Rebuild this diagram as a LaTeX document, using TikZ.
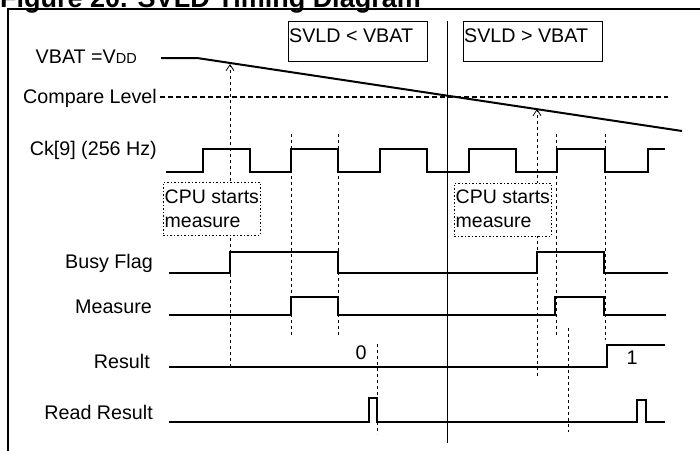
\documentclass[tikz,border=0pt]{standalone}
\usepackage{fontspec}
\setmainfont{Liberation Sans}
\usetikzlibrary{arrows.meta}
\begin{document}
\begin{tikzpicture}[x=1pt,y=-1pt,
  txt/.style={inner sep=0pt, font=\fontsize{19.7}{24}\selectfont},
  lbl/.style={txt, anchor=base east},
  wave/.style={line width=2pt, line join=miter},
  guide/.style={line width=0.9pt, dash pattern=on 3pt off 3pt},
  uparrow/.style={guide, -{Straight Barb[length=6pt,width=8pt,line width=0.8pt]}},
  cond/.style={draw, line width=0.9pt, anchor=north west, inner sep=0pt, minimum width=139pt, minimum height=40pt},
  note/.style={draw, line width=0.9pt, dash pattern=on 1.5pt off 2pt, fill=white, anchor=north west,
    inner sep=0pt, minimum width=97pt, minimum height=53pt},
  notetxt/.style={inner sep=0pt, anchor=base west, font=\fontsize{19.5}{24}\selectfont}]
\useasboundingbox (0,0) rectangle (700,450);
\clip (0,0) rectangle (700,450);

% title and frame
\node[anchor=base west, inner sep=0pt, font=\bfseries\fontsize{27}{30}\selectfont] (title) at (0,7) {Figure 20. SVLD Timing Diagram};
\draw[line width=1.3pt] (8,452) -- (8,9) -- (702,9);

% condition boxes and divider
\node[cond] (c1) at (288,21) {};
\node[txt, anchor=base west] (c1t) at (289,42) {SVLD < VBAT};
\node[cond] (c2) at (463,21) {};
\node[txt, anchor=base west] (c2t) at (464,42) {SVLD > VBAT};
\coordinate (dtop) at (447,21);
\coordinate (dbot) at (447,443);
\draw[line width=0.9pt] (dtop) -- (dbot);

% labels
\node[lbl] (lvbat) at (137,63) {VBAT =V{\fontsize{14.5}{16}\selectfont DD}};
\node[lbl] (lcmp) at (157,103) {Compare Level};
\node[lbl] (lck) at (157,155) {Ck[9] (256 Hz)};
\node[lbl] (lbusy) at (153,268) {Busy Flag};
\node[lbl] (lmeas) at (152,313) {Measure};
\node[lbl] (lres) at (150,368) {Result};
\node[lbl] (lread) at (153,419) {Read Result};
\node[txt] (v0) at (361,353) {0};
\node[txt] (v1) at (632,357.5) {1};

% guide lines
\coordinate (a1b) at (230,367); \coordinate (a1t) at (230,64);
\coordinate (a2b) at (537,376); \coordinate (a2t) at (537,109);
\draw[uparrow] (a1b) -- (a1t);
\draw[uparrow] (a2b) -- (a2t);
\draw[guide] (291,134) -- (291,337);
\draw[guide] (338,134) -- (338,337);
\draw[guide] (556,134) -- (556,337);
\draw[guide] (605,134) -- (605,340);
\draw[guide] (377,344) -- (377,434);
\draw[guide] (568,328) -- (568,432);

% notes
\node[note] (n1) at (163,182) {};
\node[notetxt] (n1a) at (164.5,203) {CPU starts};
\node[notetxt] (n1b) at (164.5,227) {measure};
\node[note] (n2) at (454,183) {};
\node[notetxt] (n2a) at (455.5,203) {CPU starts};
\node[notetxt] (n2b) at (455.5,227) {measure};

% VBAT and compare level
\draw[wave] (161,58) -- (197,58) -- (682,131);
\draw[line width=1.3pt, dash pattern=on 5pt off 3pt] (160,97) -- (668,97);

% waveforms
\draw[wave] (166,172) -- (203,172) -- (203,149) -- (250,149) -- (250,172) -- (291,172) -- (291,149) -- (338,149) -- (338,172)
  -- (380,172) -- (380,149) -- (427,149) -- (427,172) -- (469,172) -- (469,149) -- (516,149) -- (516,172)
  -- (557,172) -- (557,149) -- (605,149) -- (605,172) -- (648,172) -- (648,149) -- (665,149);
\draw[wave] (169,273) -- (230,273) -- (230,252) -- (338,252) -- (338,273) -- (537,273) -- (537,252) -- (604,252) -- (604,273) -- (668,273);
\draw[wave] (169,315) -- (291,315) -- (291,297) -- (338,297) -- (338,315) -- (555,315) -- (555,297) -- (604,297) -- (604,315) -- (666,315);
\draw[wave] (169,367) -- (607,367) -- (607,345) -- (665,345);
\draw[wave] (169,422) -- (369,422) -- (369,398) -- (377,398) -- (377,422) -- (637,422) -- (637,400) -- (646,400) -- (646,422) -- (665,422);
\end{tikzpicture}
\end{document}
